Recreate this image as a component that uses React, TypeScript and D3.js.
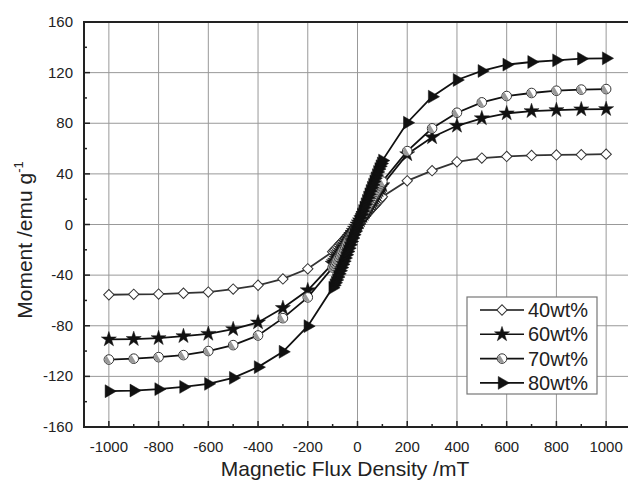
import React, { useEffect, useRef } from "react";
import * as d3 from "d3";

// field values (mT), dense sampling near zero
const fieldMT = [
  -1000, -900, -800, -700, -600, -500, -400, -300, -200, -100,
  -95, -90, -85, -80, -75, -70, -65, -60, -55, -50, -45, -40, -35, -30, -25, -20, -15, -10, -5,
  0,
  5, 10, 15, 20, 25, 30, 35, 40, 45, 50, 55, 60, 65, 70, 75, 80, 85, 90, 95,
  100, 200, 300, 400, 500, 600, 700, 800, 900, 1000,
];

const wt40 = [
  -55.5, -55.2, -55, -54.3, -53.4, -51, -48, -43, -35, -21.5,
  -20.6, -19.6, -18.5, -17.5, -16.4, -15.3, -14.3, -13.2, -12.1, -11, -9.9, -8.8, -7.7, -6.6, -5.5, -4.4, -3.3, -2.2, -1.1,
  0,
  1.1, 2.2, 3.3, 4.4, 5.5, 6.6, 7.7, 8.8, 9.9, 11, 12.1, 13.2, 14.3, 15.3, 16.4, 17.5, 18.5, 19.6, 20.7,
  22, 34.5, 42.5, 49.5, 52.5, 53.8, 54.6, 55, 55.2, 55.6,
];
const wt60 = [
  -90.8, -90.5, -89.8, -88.2, -86.4, -82.7, -77.4, -66, -52, -31,
  -29.8, -28.5, -27, -25.5, -24, -22.5, -21, -19.4, -17.9, -16.3, -14.7, -13.1, -11.5, -9.9, -8.3, -6.6, -5, -3.3, -1.7,
  0,
  1.7, 3.3, 5, 6.6, 8.3, 9.9, 11.5, 13.1, 14.7, 16.3, 17.9, 19.4, 21, 22.5, 24, 25.5, 27, 28.5, 29.8,
  31, 55.5, 68.9, 78, 83.9, 87.8, 89.6, 90.4, 91, 91.2,
];
const wt70 = [
  -106.7, -106, -104.8, -103.2, -100, -95.3, -87.7, -74, -57.6, -34,
  -32.5, -31, -29.4, -27.7, -26, -24.3, -22.6, -20.9, -19.2, -17.5, -15.8, -14, -12.3, -10.5, -8.8, -7, -5.3, -3.5, -1.8,
  0,
  1.8, 3.5, 5.3, 7, 8.8, 10.5, 12.3, 14, 15.8, 17.5, 19.2, 20.9, 22.6, 24.3, 26, 27.7, 29.4, 31, 32.5,
  34, 58, 76, 88.3, 96.5, 101.5, 103.9, 105.7, 106.6, 107,
];
const wt80 = [
  -131.7, -131.2, -130.1, -128.3, -125.9, -121.2, -112.7, -100.6, -80.3, -50,
  -48, -46, -43.8, -41.5, -39, -36.5, -34, -31.5, -29, -26.5, -23.9, -21.3, -18.7, -16, -13.4, -10.7, -8, -5.4, -2.7,
  0,
  2.7, 5.4, 8, 10.7, 13.4, 16, 18.7, 21.3, 23.9, 26.5, 29, 31.5, 34, 36.5, 39, 41.5, 43.8, 46, 48.2,
  50.5, 80.4, 101, 114.2, 121.3, 126.3, 128.4, 129.7, 131, 131.3,
];

const seriesNames = ["40wt%", "60wt%", "70wt%", "80wt%"];
const seriesValues = [wt40, wt60, wt70, wt80];
const markerKinds = ["diamond", "star", "halfCircle", "triangle"];

const xTicks = [-1000, -800, -600, -400, -200, 0, 200, 400, 600, 800, 1000];
const xMinor = [-1100, -900, -700, -500, -300, -100, 100, 300, 500, 700, 900];
const yTicks = [-160, -120, -80, -40, 0, 40, 80, 120, 160];
const yMinor = [-140, -100, -60, -20, 20, 60, 100, 140];

const W = 628;
const H = 484;
const FONT = "'Liberation Sans', Arial, sans-serif";

function drawMarker(g: any, kind: string, x: number, y: number) {
  if (kind === "diamond") {
    g.append("path")
      .attr("d", d3.symbol().type(d3.symbolSquare).size(54)())
      .attr("transform", `translate(${x},${y}) rotate(45)`)
      .attr("fill", "#fff")
      .attr("stroke", "#333")
      .attr("stroke-width", 1);
  } else if (kind === "star") {
    g.append("path")
      .attr("d", d3.symbol().type(d3.symbolStar).size(70)())
      .attr("transform", `translate(${x},${y})`)
      .attr("fill", "#111")
      .attr("stroke", "#111")
      .attr("stroke-width", 0.5);
  } else if (kind === "halfCircle") {
    g.append("circle")
      .attr("cx", x)
      .attr("cy", y)
      .attr("r", 4.8)
      .attr("fill", "#fff")
      .attr("stroke", "#333")
      .attr("stroke-width", 1);
    g.append("path")
      .attr("d", d3.arc()({ innerRadius: 0, outerRadius: 4.3, startAngle: Math.PI, endAngle: 2 * Math.PI } as any))
      .attr("transform", `translate(${x},${y}) rotate(-30)`)
      .attr("fill", "#999");
  } else {
    g.append("path")
      .attr("d", d3.symbol().type(d3.symbolTriangle).size(72)())
      .attr("transform", `translate(${x},${y}) rotate(90)`)
      .attr("fill", "#111")
      .attr("stroke", "#111")
      .attr("stroke-width", 0.5);
  }
}

export default function App() {
  const ref = useRef<SVGSVGElement | null>(null);

  useEffect(() => {
    const svg = d3.select(ref.current);
    svg.selectAll("*").remove();

    const x = d3.scaleLinear().domain([-1100, 1100]).range([84, 631]);
    const y = d3.scaleLinear().domain([-160, 160]).range([427, 22]);
    const [x0, x1] = x.range();
    const [yb, yt] = y.range();

    svg.append("rect").attr("width", W).attr("height", H).attr("fill", "#fff");

    // grid
    const grid = svg.append("g").attr("stroke", "#999").attr("stroke-width", 1);
    xTicks.forEach((t) => {
      grid.append("line").attr("x1", x(t)).attr("x2", x(t)).attr("y1", yt).attr("y2", yb);
    });
    yTicks.slice(1, -1).forEach((t) => {
      grid.append("line").attr("x1", x0).attr("x2", x1).attr("y1", y(t)).attr("y2", y(t));
    });

    // series
    const line = d3
      .line<number>()
      .x((_, i) => x(fieldMT[i]))
      .y((d) => y(d));

    seriesValues.forEach((vals, si) => {
      const g = svg.append("g");
      g.append("path")
        .attr("d", line(vals))
        .attr("fill", "none")
        .attr("stroke", si === 0 ? "#333" : "#111")
        .attr("stroke-width", 1.8);
      vals.forEach((v, i) => drawMarker(g, markerKinds[si], x(fieldMT[i]), y(v)));
    });

    // frame
    const frame = svg.append("g").attr("stroke", "#222").attr("stroke-width", 2).attr("fill", "none");
    frame.append("line").attr("x1", x0).attr("x2", x0).attr("y1", yt - 1).attr("y2", yb + 1);
    frame.append("line").attr("x1", x0 - 1).attr("x2", x1).attr("y1", yb).attr("y2", yb);
    frame.append("line").attr("x1", x0 - 1).attr("x2", x1).attr("y1", yt).attr("y2", yt);

    // ticks (inward)
    const ticks = svg.append("g").attr("stroke", "#222").attr("stroke-width", 1.5);
    xTicks.forEach((t) => {
      ticks.append("line").attr("x1", x(t)).attr("x2", x(t)).attr("y1", yb).attr("y2", yb - 6);
    });
    xMinor.forEach((t) => {
      ticks.append("line").attr("x1", x(t)).attr("x2", x(t)).attr("y1", yb).attr("y2", yb - 3);
    });
    yTicks.forEach((t) => {
      ticks.append("line").attr("x1", x0).attr("x2", x0 + 6).attr("y1", y(t)).attr("y2", y(t));
    });
    yMinor.forEach((t) => {
      ticks.append("line").attr("x1", x0).attr("x2", x0 + 3).attr("y1", y(t)).attr("y2", y(t));
    });

    // tick labels
    const labels = svg.append("g").attr("font-family", FONT).attr("font-size", 15).attr("fill", "#222");
    xTicks.forEach((t) => {
      labels.append("text").attr("x", x(t)).attr("y", 452).attr("text-anchor", "middle").text(t);
    });
    yTicks.forEach((t) => {
      labels
        .append("text")
        .attr("x", 73)
        .attr("y", y(t) + 5)
        .attr("text-anchor", "end")
        .text(t);
    });

    // axis titles
    svg
      .append("text")
      .attr("x", 345)
      .attr("y", 476)
      .attr("text-anchor", "middle")
      .attr("font-family", FONT)
      .attr("font-size", 21)
      .attr("fill", "#222")
      .text("Magnetic Flux Density /mT");

    const yt2 = svg
      .append("text")
      .attr("transform", `translate(32,240) rotate(-90)`)
      .attr("text-anchor", "middle")
      .attr("font-family", FONT)
      .attr("font-size", 21)
      .attr("fill", "#222");
    yt2.append("tspan").text("Moment /emu g");
    yt2.append("tspan").attr("font-size", 13).attr("dy", -9).text("-1");

    // legend
    const lg = svg.append("g");
    lg.append("rect")
      .attr("x", 467)
      .attr("y", 297)
      .attr("width", 130)
      .attr("height", 97)
      .attr("fill", "#fff")
      .attr("stroke", "#777")
      .attr("stroke-width", 1.2);
    seriesNames.forEach((name, i) => {
      const ly = 310 + i * 24.3;
      lg.append("line")
        .attr("x1", 480)
        .attr("x2", 524)
        .attr("y1", ly)
        .attr("y2", ly)
        .attr("stroke", "#111")
        .attr("stroke-width", 1.6);
      drawMarker(lg, markerKinds[i], 502, ly);
      lg.append("text")
        .attr("x", 528)
        .attr("y", ly + 7)
        .attr("font-family", FONT)
        .attr("font-size", 20)
        .attr("fill", "#222")
        .text(name);
    });
  }, []);

  return (
    <svg
      ref={ref}
      width={W}
      height={H}
      style={{ position: "absolute", left: 0, top: 0, display: "block" }}
    />
  );
}
